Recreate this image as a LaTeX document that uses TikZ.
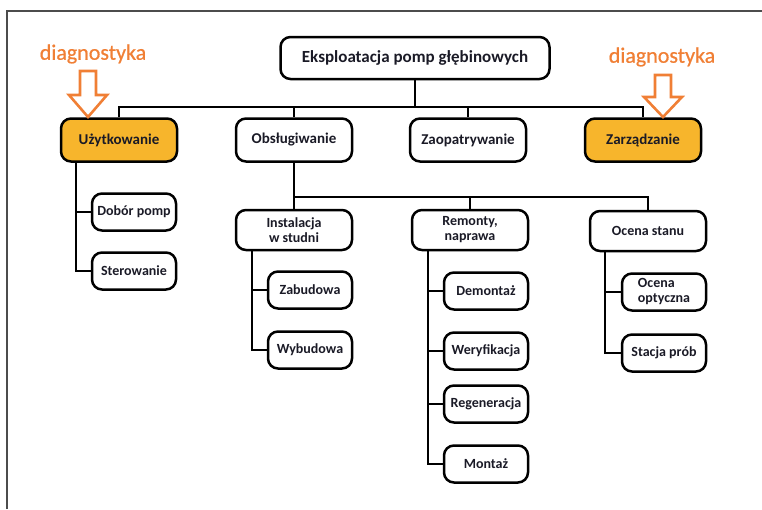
\documentclass[tikz,border=0pt]{standalone}
\usepackage{fontspec}
\setmainfont{Carlito}
\newfontfamily\diagfont[FakeBold=0.6]{Carlito}
\definecolor{org}{HTML}{F07F35}
\definecolor{gold}{HTML}{F7B52C}
\definecolor{ink}{HTML}{1A1A26}
\begin{document}
\begin{tikzpicture}[x=1pt,y=-1pt,
  box/.style={draw=black, line width=2.5pt, rounded corners=10pt, align=center,
    text=ink, inner sep=1pt, font=\bfseries\fontsize{14}{15}\selectfont},
  topbox/.style={box, minimum width=269pt, minimum height=42pt, font=\bfseries\fontsize{17}{19}\selectfont},
  lone/.style={box, minimum width=116pt, minimum height=43pt, font=\bfseries\fontsize{15}{17}\selectfont},
  ltwo/.style={box, minimum width=116pt, minimum height=40pt},
  lthree/.style={box, minimum width=84pt, minimum height=37pt},
  hl/.style={fill=gold},
  conn/.style={draw=black, line width=2.5pt},
  diag/.style={text=org, font=\diagfont\fontsize{22}{24}\selectfont},
  darrow/.style={draw=org, line width=2.6pt, fill=white, line join=miter}
]
\useasboundingbox (0,0) rectangle (762,509);
\draw[gray!60!black, line width=1.2pt] (7,509) -- (7,11) -- (762,11);

% top
\node[topbox] (top) at (415,58) {Eksploatacja pomp głębinowych};
% level 1
\node[lone,hl] (u) at (119,140) {Użytkowanie};
\node[lone] (o) at (294,140) {Obsługiwanie};
\node[lone] (zp) at (468,140) {Zaopatrywanie};
\node[lone,hl] (zr) at (643,140) {Zarządzanie};
% level 2
\node[ltwo] (inst) at (294,230) {Instalacja\\w studni};
\node[ltwo] (rem) at (470,230) {Remonty,\\naprawa};
\node[ltwo] (oc) at (648,231) {Ocena stanu};
% level 3
\node[lthree] (dob) at (134,212) {Dobór pomp};
\node[lthree] (ster) at (134,271) {Sterowanie};
\node[lthree] (zab) at (310,290) {Zabudowa};
\node[lthree] (wyb) at (310,350) {Wybudowa};
\node[lthree] (dem) at (486,291) {Demontaż};
\node[lthree] (wer) at (486,351) {Weryfikacja};
\node[lthree] (reg) at (486,404) {Regeneracja};
\node[lthree] (mon) at (486,464) {Montaż};
\node[lthree, align=left] (opt) at (664,292) {Ocena\\optyczna};
\node[lthree] (sta) at (664,353) {Stacja prób};

% bus coordinates
\coordinate (b1) at (415,107);
\coordinate (b2) at (294,197);
\coordinate (vu) at (76,162);
\coordinate (vi) at (252,250);
\coordinate (vr) at (428,250);
\coordinate (vo) at (605,252);

% connectors
\draw[conn] (top.south) -- (b1);
\draw[conn] (u.north) |- (b1) -| (zr.north);
\draw[conn] (o.north) -- (o.north |- b1);
\draw[conn] (zp.north) -- (zp.north |- b1);
\draw[conn] (o.south) -- (b2) -| (oc.north);
\draw[conn] (inst.north) -- (b2);
\draw[conn] (rem.north) -- (rem.north |- b2);

\draw[conn] (vu) |- (ster.west);
\draw[conn] (vu |- dob.west) -- (dob.west);
\draw[conn] (vi) |- (wyb.west);
\draw[conn] (vi |- zab.west) -- (zab.west);
\draw[conn] (vr) |- (mon.west);
\draw[conn] (vr |- dem.west) -- (dem.west);
\draw[conn] (vr |- wer.west) -- (wer.west);
\draw[conn] (vr |- reg.west) -- (reg.west);
\draw[conn] (vo) |- (sta.west);
\draw[conn] (vo |- opt.west) -- (opt.west);

% diagnostyka
\node[diag] (d1) at (93,54) {diagnostyka};
\node[diag] (d2) at (662,57) {diagnostyka};
\draw[darrow] (80,71) -- (96,71) -- (96,95) -- (107,95) -- (88,117) -- (69,95) -- (80,95) -- cycle;
\draw[darrow] (655,75) -- (671,75) -- (671,97) -- (682,97) -- (663,117) -- (644,97) -- (655,97) -- cycle;
\end{tikzpicture}
\end{document}
